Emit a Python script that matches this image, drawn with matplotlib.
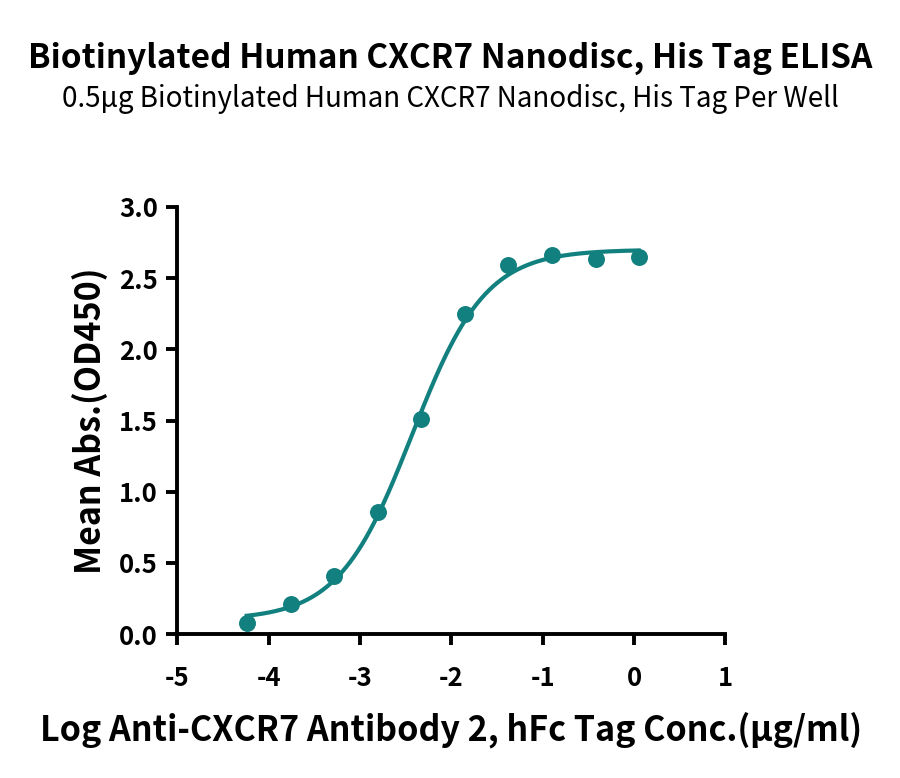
import numpy as np
import matplotlib
matplotlib.use("Agg")
import matplotlib.pyplot as plt

plt.rcParams['font.family'] = ['Noto Sans CJK SC', 'DejaVu Sans']

# Measured points (log10 concentration, mean OD450)
log_conc = [-4.24, -3.76, -3.28, -2.80, -2.33, -1.853, -1.376, -0.903, -0.42, 0.051]
mean_abs = [0.077, 0.214, 0.407, 0.860, 1.514, 2.249, 2.593, 2.663, 2.635, 2.647]

# 4PL fit parameters
fit_bottom = 0.10
fit_top = 2.70
fit_log_ec50 = -2.43
fit_hill = 1.08

x_ticks = [-5, -4, -3, -2, -1, 0, 1]
y_ticks = [0.0, 0.5, 1.0, 1.5, 2.0, 2.5, 3.0]

title = "Biotinylated Human CXCR7 Nanodisc, His Tag ELISA"
subtitle = "0.5\u03bcg Biotinylated Human CXCR7 Nanodisc, His Tag Per Well"
x_label = "Log Anti-CXCR7 Antibody 2, hFc Tag Conc.(\u03bcg/ml)"
y_label = "Mean Abs.(OD450)"

teal = '#12807f'


def four_pl(x):
    return fit_bottom + (fit_top - fit_bottom) / (1 + 10 ** ((fit_log_ec50 - x) * fit_hill))


fig = plt.figure(figsize=(9, 7.78), dpi=100)
ax = fig.add_axes([0.197, 0.185, 0.609, 0.549])

xs = np.linspace(min(log_conc), max(log_conc), 300)
ax.plot(xs, four_pl(xs), color=teal, lw=3.0, zorder=2)
ax.scatter(log_conc, mean_abs, s=125, color=teal, zorder=3, clip_on=False)

ax.set_xlim(-5, 1)
ax.set_ylim(0, 3.0)
ax.set_xticks(x_ticks)
ax.set_xticklabels([str(t) for t in x_ticks])
ax.set_yticks(y_ticks)
ax.set_yticklabels([f"{t:.1f}" for t in y_ticks])

for side in ['top', 'right']:
    ax.spines[side].set_visible(False)
for side in ['left', 'bottom']:
    ax.spines[side].set_linewidth(2.8)
ax.tick_params(axis='both', direction='out', length=8, width=2.8,
               labelsize=18.5, pad=6)
for lab in ax.get_xticklabels() + ax.get_yticklabels():
    lab.set_fontweight('bold')
ax.tick_params(axis='x', pad=14)

ax.set_xlabel(x_label, fontsize=24.5, fontweight='bold', labelpad=14)
ax.set_ylabel(y_label, fontsize=24.5, fontweight='bold', labelpad=8)

fig.text(0.5, 0.925, title, ha='center', va='center', fontsize=24, fontweight='bold')
fig.text(0.5, 0.873, subtitle, ha='center', va='center', fontsize=20)

fig.savefig("out.png", dpi=100)
